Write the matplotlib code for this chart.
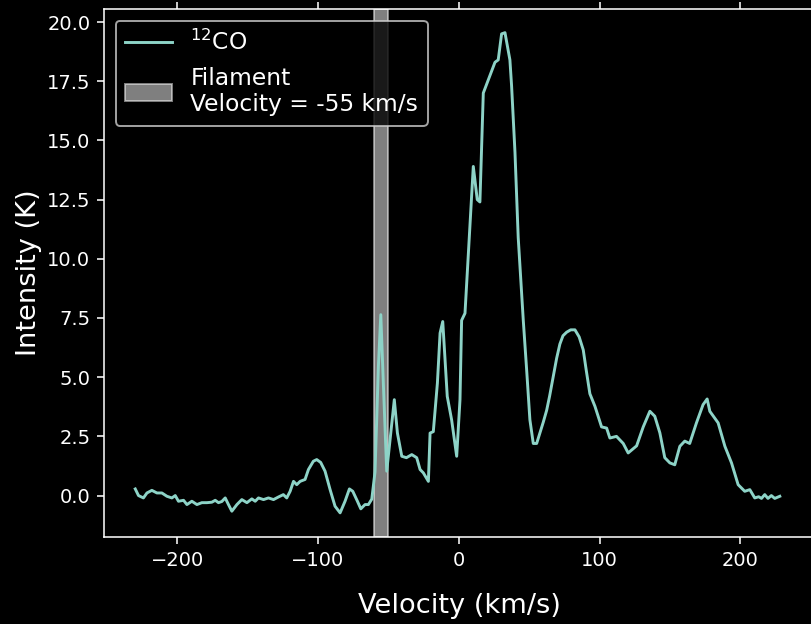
import matplotlib
matplotlib.use("Agg")
import matplotlib.pyplot as plt

# 12CO spectrum
velocity = [
    -229.8, -227.5, -224.0, -221.5, -218.0, -214.4, -210.9, -207.3, -203.8, -201.4,
    -199.1, -195.5, -193.1, -189.6, -186.0, -182.5, -178.9, -175.4, -173.0, -170.7,
    -168.3, -165.9, -163.6, -161.2, -157.6, -154.1, -150.5, -147.0, -144.6, -142.3,
    -138.7, -135.2, -131.6, -128.1, -124.6, -122.2, -119.8, -117.4, -115.1, -112.7,
    -109.2, -106.8, -103.3, -100.9, -98.1, -95.0, -91.4, -87.9, -84.3, -80.8,
    -77.7, -75.3, -72.0, -69.6, -66.6, -64.2, -61.8, -59.5, -57.1, -55.4,
    -53.6, -51.2, -48.8, -45.8, -43.6, -40.5, -37.2, -33.4, -29.9, -27.5,
    -25.2, -21.6, -20.4, -18.1, -15.2, -13.3, -11.4, -8.2, -5.1, -1.5,
    0.85, 2.0, 4.4, 10.3, 13.1, 15.0, 17.4, 20.9, 25.7, 28.0,
    30.4, 32.8, 36.3, 37.5, 39.9, 42.2, 45.8, 48.2, 50.5, 52.9,
    55.3, 60.0, 62.4, 64.5, 67.0, 69.5, 71.8, 74.0, 76.6, 79.5,
    82.5, 85.5, 88.4, 90.5, 93.1, 96.7, 101.4, 105.0, 107.3, 112.0,
    116.8, 120.3, 126.3, 131.0, 135.7, 139.2, 142.8, 146.3, 149.9, 153.4,
    157.0, 160.5, 164.0, 168.8, 173.5, 176.4, 178.3, 184.2, 189.0, 193.7,
    198.4, 203.1, 206.7, 210.2, 213.0, 215.0, 217.3, 219.6, 222.0, 224.4,
    228.0,
]
intensity = [
    0.28, 0.00, -0.10, 0.11, 0.22, 0.11, 0.11, -0.03, -0.10, 0.00,
    -0.24, -0.20, -0.38, -0.24, -0.38, -0.30, -0.30, -0.28, -0.20, -0.30,
    -0.25, -0.10, -0.38, -0.66, -0.38, -0.17, -0.30, -0.14, -0.24, -0.10,
    -0.17, -0.10, -0.17, -0.06, 0.04, -0.10, 0.18, 0.60, 0.46, 0.60,
    0.68, 1.10, 1.45, 1.52, 1.40, 1.03, 0.25, -0.45, -0.73, -0.24,
    0.28, 0.18, -0.24, -0.56, -0.38, -0.38, -0.15, 1.00, 5.46, 7.64,
    4.75, 1.03, 2.36, 4.05, 2.64, 1.66, 1.60, 1.73, 1.60, 1.10,
    0.96, 0.60, 2.64, 2.70, 4.75, 6.86, 7.35, 4.19, 3.20, 1.66,
    4.05, 7.40, 7.70, 13.90, 12.50, 12.40, 17.00, 17.55, 18.30, 18.40,
    19.50, 19.55, 18.40, 17.30, 14.50, 10.90, 7.40, 5.30, 3.20, 2.20,
    2.20, 3.10, 3.60, 4.20, 5.00, 5.80, 6.40, 6.75, 6.90, 7.00,
    7.00, 6.70, 6.15, 5.30, 4.30, 3.77, 2.90, 2.85, 2.43, 2.50,
    2.20, 1.80, 2.10, 2.90, 3.56, 3.35, 2.65, 1.60, 1.38, 1.30,
    2.08, 2.30, 2.20, 3.07, 3.84, 4.08, 3.56, 3.07, 2.08, 1.38,
    0.46, 0.18, 0.25, -0.10, -0.05, -0.12, 0.04, -0.12, 0.00, -0.12,
    -0.03,
]

filament_range = (-60, -50)

plt.style.use("dark_background")

fig = plt.figure(figsize=(811 / 140, 624 / 140), dpi=140)
ax = fig.add_axes([104 / 811, 87 / 624, 711 / 811, 528 / 624])

ax.plot(velocity, intensity, label="$^{12}$CO")
ax.axvspan(*filament_range, color="white", alpha=0.5,
           label="Filament\nVelocity = -55 km/s")

ax.set_xlim(-252, 253)
ax.set_ylim(-1.75, 20.55)
ax.set_xlabel("Velocity (km/s)", fontsize=14, labelpad=12)
ax.set_ylabel("Intensity (K)", fontsize=14, labelpad=2.5)
ax.tick_params(top=True, labelsize=10)
ax.legend(loc="upper left", fontsize=12)

fig.savefig("out.png", dpi=140)
plt.close(fig)
